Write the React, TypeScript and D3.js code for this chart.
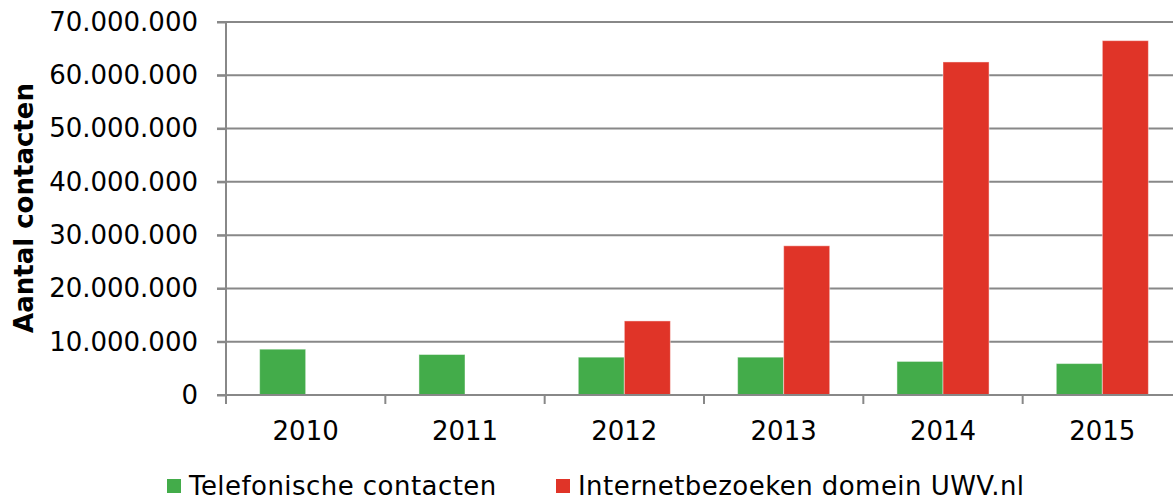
import React, { useRef, useEffect } from 'react';
import * as d3 from 'd3';

const years = ['2010', '2011', '2012', '2013', '2014', '2015'];
const seriesNames = ['Telefonische contacten', 'Internetbezoeken domein UWV.nl'];
const telefonisch = [8600000, 7600000, 7100000, 7100000, 6300000, 5900000];
const internet = [0, 0, 13900000, 28000000, 62500000, 66500000];
const seriesColors = ['#43ac4a', '#e03428'];
const yTicks = [0, 10000000, 20000000, 30000000, 40000000, 50000000, 60000000, 70000000];

const App = () => {
    const svgRef = useRef<SVGSVGElement>(null);

    useEffect(() => {
        const width = 1173;
        const height = 499;
        const left = 226;
        const right = 1182; // plot runs slightly past the picture edge
        const top = 22;
        const bottom = 395;
        const font = 'DejaVu Sans, Verdana, sans-serif';
        const grey = '#888888';

        const svg = d3.select(svgRef.current);
        svg.selectAll('*').remove();
        svg.attr('width', width).attr('height', height);

        const x0 = d3.scaleBand<string>().domain(years).range([left, right]).padding(0);
        const x1 = d3.scaleBand<string>()
            .domain(seriesNames)
            .range([0, x0.bandwidth()])
            .paddingInner(0)
            .paddingOuter(0.73);
        const y = d3.scaleLinear().domain([0, 70000000]).range([bottom, top]);

        const nl = d3.formatLocale({ decimal: ',', thousands: '.', grouping: [3], currency: ['€', ''] });
        const fmt = nl.format(',');

        // gridlines
        svg.append('g')
            .selectAll('line')
            .data(yTicks.filter(t => t > 0))
            .join('line')
            .attr('x1', left - 9)
            .attr('x2', width)
            .attr('y1', d => y(d))
            .attr('y2', d => y(d))
            .attr('stroke', grey)
            .attr('stroke-width', 2);

        // y axis
        const yAxis = d3.axisLeft(y).tickValues(yTicks).tickSize(9).tickPadding(19).tickFormat(d => fmt(d as number));
        svg.append('g')
            .attr('transform', `translate(${left},0)`)
            .call(yAxis)
            .call(g => g.select('.domain').remove())
            .call(g => g.selectAll('.tick line').attr('stroke', grey).attr('stroke-width', 2))
            .call(g => g.selectAll('.tick text').attr('fill', '#000').style('font-size', '26px').style('font-family', font));

        // bars
        const data = years.map((yr, i) => ({ yr, vals: [telefonisch[i], internet[i]] }));
        svg.append('g')
            .selectAll('g')
            .data(data)
            .join('g')
            .attr('transform', d => `translate(${x0(d.yr)},0)`)
            .selectAll('rect')
            .data(d => d.vals.map((v, j) => ({ v, name: seriesNames[j], color: seriesColors[j] })).filter(b => b.v > 0))
            .join('rect')
            .attr('x', d => x1(d.name)!)
            .attr('width', x1.bandwidth())
            .attr('y', d => y(d.v))
            .attr('height', d => y(0) - y(d.v))
            .attr('fill', d => d.color)
            .attr('stroke', 'rgba(255,255,255,0.45)')
            .attr('stroke-width', 1);

        // y axis line
        svg.append('line')
            .attr('x1', left).attr('x2', left)
            .attr('y1', top).attr('y2', bottom + 9)
            .attr('stroke', grey).attr('stroke-width', 2);

        // x axis line and category ticks
        svg.append('line')
            .attr('x1', left - 9).attr('x2', width)
            .attr('y1', bottom).attr('y2', bottom)
            .attr('stroke', grey).attr('stroke-width', 2);
        svg.append('g')
            .selectAll('line')
            .data(years.slice(1))
            .join('line')
            .attr('x1', d => x0(d)!)
            .attr('x2', d => x0(d)!)
            .attr('y1', bottom)
            .attr('y2', bottom + 9)
            .attr('stroke', grey)
            .attr('stroke-width', 2);

        svg.append('g')
            .selectAll('text')
            .data(years)
            .join('text')
            .attr('x', d => x0(d)! + x0.bandwidth() / 2)
            .attr('y', 440)
            .attr('text-anchor', 'middle')
            .style('font-size', '26px')
            .style('font-family', font)
            .text(d => d);

        // axis title
        svg.append('text')
            .attr('transform', 'translate(33,208) rotate(-90)')
            .attr('text-anchor', 'middle')
            .style('font-size', '26px')
            .style('font-weight', 'bold')
            .style('font-family', font)
            .text('Aantal contacten');

        // legend
        const legendX = [167, 556];
        const legend = svg.append('g')
            .selectAll('g')
            .data(seriesNames)
            .join('g')
            .attr('transform', (d, i) => `translate(${legendX[i]},0)`);
        legend.append('rect')
            .attr('x', 0).attr('y', 479)
            .attr('width', 14).attr('height', 14)
            .attr('fill', (d, i) => seriesColors[i]);
        legend.append('text')
            .attr('x', 22).attr('y', 495)
            .style('font-size', '26px')
            .style('letter-spacing', '0.45px')
            .style('font-family', font)
            .text(d => d);
    }, []);

    return (
        <div style={{ position: 'absolute', left: 0, top: 0 }}>
            <svg ref={svgRef} style={{ display: 'block' }}></svg>
        </div>
    );
};

export default App;
